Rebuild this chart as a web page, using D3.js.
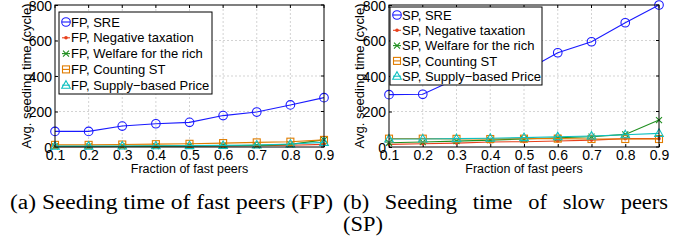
<!DOCTYPE html>
<html><head><meta charset="utf-8">
<script src="https://cdn.jsdelivr.net/npm/d3@7"></script>
<style>body{margin:0;background:#fff}svg{display:block}
.sans{font-family:"Liberation Sans",Arial,Helvetica,sans-serif}
.serif{font-family:"Liberation Serif","Times New Roman",serif}</style>
</head><body><svg id="c" width="693" height="240"></svg>
<script>
const fractions = [0.1,0.2,0.3,0.4,0.5,0.6,0.7,0.8,0.9];
const xTicks = [0.1,0.2,0.3,0.4,0.5,0.6,0.7,0.8,0.9];
const yTicks = [0,200,400,600,800];
const seriesNames = ["SRE","Negative taxation","Welfare for the rich","Counting ST","Supply\u2212based Price"];
// Fast peers
const fpSRE      = [88, 88, 118, 131, 139, 177, 197, 237, 278];
const fpNegTax   = [2, 2, 3, 4, 5, 6, 7, 10, 15];
const fpWelfare  = [3, 3, 4, 5, 6, 7, 9, 15, 40];
const fpCounting = [12, 12, 14, 16, 18, 22, 26, 30, 40];
const fpSupply   = [5, 5, 6, 7, 8, 9, 11, 17, 26];
// Slow peers
const spSRE      = [295, 297, 385, 405, 425, 531, 593, 700, 800];
const spNegTax   = [15, 18, 22, 28, 30, 34, 39, 47, 47];
const spWelfare  = [24, 28, 33, 39, 45, 52, 58, 71, 152];
const spCounting = [47, 47, 46, 45, 47, 47, 45, 45, 45];
const spSupply   = [45, 45, 47, 49, 53, 58, 62, 69, 77];

const colors = ["#1a1aff","#e8401c","#1f8f1f","#e07c00","#10c0c0"];
const markers = ["circle","dot","x","square","triangle"];

const svg = d3.select("#c");

function marker(g, type, color, x, y){
  if(type==="circle") g.append("circle").attr("cx",x).attr("cy",y).attr("r",4.3).attr("fill","none").attr("stroke",color).attr("stroke-width",1.1);
  else if(type==="dot") g.append("circle").attr("cx",x).attr("cy",y).attr("r",1.8).attr("fill",color);
  else if(type==="x"){ const s=3; g.append("path").attr("d",`M${x-s},${y-s}L${x+s},${y+s}M${x-s},${y+s}L${x+s},${y-s}`).attr("stroke",color).attr("stroke-width",1.1); }
  else if(type==="square") g.append("rect").attr("x",x-3.5).attr("y",y-3.5).attr("width",7).attr("height",7).attr("fill","none").attr("stroke",color).attr("stroke-width",1.1);
  else if(type==="triangle") g.append("path").attr("d",`M${x},${y-4.5}L${x+4.3},${y+3}L${x-4.3},${y+3}Z`).attr("fill","none").attr("stroke",color).attr("stroke-width",1.1);
}

function panel(opt){
  const x = d3.scaleLinear().domain([0.1,0.9]).range([opt.x0,opt.x1]);
  const y = d3.scaleLinear().domain([0,800]).range([opt.yBot,opt.yTop]);
  const g = svg.append("g");
  g.append("g").selectAll("line").data(xTicks.slice(1,-1)).join("line")
    .attr("x1",d=>x(d)).attr("x2",d=>x(d)).attr("y1",opt.yTop).attr("y2",opt.yBot)
    .attr("stroke","#c8c8c8").attr("stroke-dasharray","2,2").attr("stroke-width",0.8);
  g.append("g").selectAll("line").data(yTicks.slice(1,-1)).join("line")
    .attr("y1",d=>y(d)).attr("y2",d=>y(d)).attr("x1",opt.x0).attr("x2",opt.x1)
    .attr("stroke","#c8c8c8").attr("stroke-dasharray","2,2").attr("stroke-width",0.8);
  const xa = g.append("g").attr("transform",`translate(0,${opt.yBot})`)
    .call(d3.axisBottom(x).tickValues(xTicks).tickFormat(d3.format(".1f")).tickSizeInner(-3).tickSizeOuter(0).tickPadding(3));
  const ya = g.append("g").attr("transform",`translate(${opt.x0},0)`)
    .call(d3.axisLeft(y).tickValues(yTicks).tickSizeInner(-3).tickSizeOuter(0).tickPadding(3));
  [xa,ya].forEach(a=>{a.attr("font-family",null).attr("font-size",null);
    a.select(".domain").remove(); a.selectAll("line").attr("stroke","#000");
    a.selectAll("text").attr("class","sans").style("font-size","14px").attr("fill","#000");});
  xa.selectAll("text").attr("dy","0.72em");
  ya.selectAll("text").attr("dy","0.36em");
  g.append("g").selectAll("line").data(xTicks).join("line").attr("x1",d=>x(d)).attr("x2",d=>x(d)).attr("y1",opt.yTop).attr("y2",opt.yTop+3).attr("stroke","#000");
  g.append("g").selectAll("line").data(yTicks).join("line").attr("y1",d=>y(d)).attr("y2",d=>y(d)).attr("x1",opt.x1).attr("x2",opt.x1-3).attr("stroke","#000");
  const line = d3.line().x((d,i)=>x(fractions[i])).y(d=>y(d));
  opt.series.forEach((s,k)=>{
    const sg = g.append("g");
    sg.append("path").attr("d",line(s)).attr("fill","none").attr("stroke",colors[k]).attr("stroke-width",1.1);
    s.forEach((v,i)=>marker(sg,markers[k],colors[k],x(fractions[i]),y(v)));
  });
  g.append("rect").attr("x",opt.x0).attr("y",opt.yTop).attr("width",opt.x1-opt.x0).attr("height",opt.yBot-opt.yTop)
    .attr("fill","none").attr("stroke","#000").attr("stroke-width",1);
  g.append("text").attr("class","sans").attr("x",(opt.x0+opt.x1)/2).attr("y",opt.yBot+26).attr("text-anchor","middle")
    .style("font-size","12.5px").text("Fraction of fast peers");
  g.append("text").attr("class","sans").attr("transform",`translate(${opt.ylx},${(opt.yTop+opt.yBot)/2}) rotate(-90)`).attr("text-anchor","middle")
    .style("font-size","13px").text("Avg. seeding time (cycle)");
  const L = opt.legend;
  const lg = g.append("g");
  lg.append("rect").attr("x",L.x).attr("y",L.y).attr("width",L.w).attr("height",L.h).attr("fill","#fff").attr("stroke","#000").attr("stroke-width",1);
  seriesNames.forEach((n,k)=>{
    const cy = L.y + L.first + k*L.step;
    lg.append("line").attr("x1",L.x+3).attr("x2",L.x+11).attr("y1",cy).attr("y2",cy).attr("stroke",colors[k]).attr("stroke-width",1.1);
    marker(lg,markers[k],colors[k],L.x+7,cy);
    lg.append("text").attr("class","sans").attr("x",L.x+12).attr("y",cy).attr("dy","0.36em").style("font-size","13px").text(opt.prefix+", "+n);
  });
}

panel({x0:55,x1:324,yTop:5,yBot:147,ylx:31,prefix:"FP",
  series:[fpSRE,fpNegTax,fpWelfare,fpCounting,fpSupply],
  legend:{x:59,y:12,w:153,h:82,first:10,step:15.8}});
panel({x0:389,x1:659,yTop:5,yBot:147,ylx:364,prefix:"SP",
  series:[spSRE,spNegTax,spWelfare,spCounting,spSupply],
  legend:{x:390,y:7,w:152,h:78,first:8,step:15.3}});

// captions
svg.append("text").attr("class","serif").attr("x",10).attr("y",209).style("font-size","20px")
  .attr("textLength",323).attr("lengthAdjust","spacingAndGlyphs").text("(a) Seeding time of fast peers (FP)");
const words = ["(b)","Seeding","time","of","slow","peers"];
const wt = words.map(w=>svg.append("text").attr("class","serif").attr("y",209).style("font-size","20px").text(w));
const scaleX = 1.12;
wt.forEach(t=>t.attr("textLength",t.node().getComputedTextLength()*scaleX).attr("lengthAdjust","spacingAndGlyphs"));
const widths = wt.map(t=>+t.attr("textLength"));
const gap = (325 - d3.sum(widths))/(words.length-1);
let cx = 343;
wt.forEach((t,i)=>{t.attr("x",cx); cx += widths[i]+gap;});
const sp = svg.append("text").attr("class","serif").attr("x",343).attr("y",231).style("font-size","20px").text("(SP)");
sp.attr("textLength",sp.node().getComputedTextLength()*scaleX).attr("lengthAdjust","spacingAndGlyphs");
</script></body></html>
